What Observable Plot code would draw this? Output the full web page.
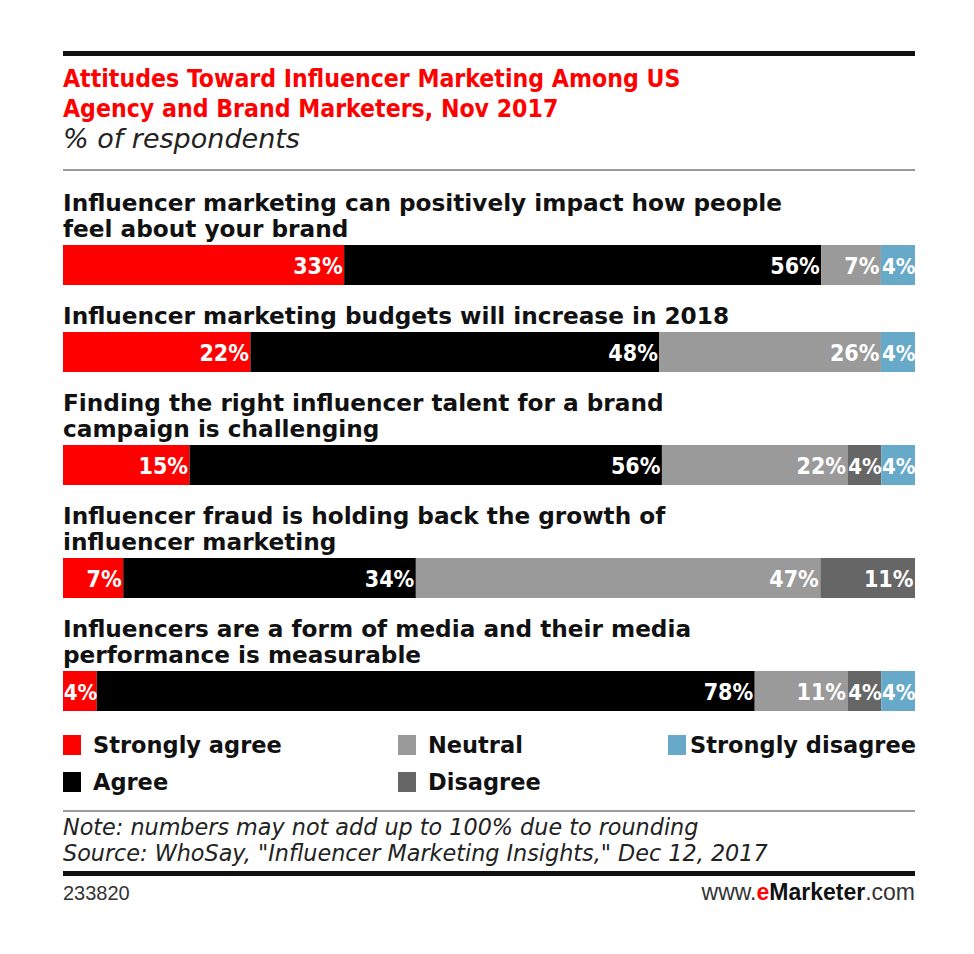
<!DOCTYPE html>
<html>
<head>
<meta charset="utf-8">
<script src="https://cdn.jsdelivr.net/npm/d3@7"></script>
<script src="https://cdn.jsdelivr.net/npm/@observablehq/plot@0.6"></script>
<style>
  html, body { margin: 0; padding: 0; background: #fff; }
  #page { position: relative; width: 974px; height: 954px; overflow: hidden; }
  .abs { position: absolute; left: 63px; width: 852px; }
  .rule-black { height: 5px; background: #111; }
  .rule-gray { height: 2px; background: #9a9a9a; }
  #title { font-family: "DejaVu Sans Condensed", "DejaVu Sans", sans-serif; font-stretch: condensed; font-weight: bold; font-size: 24.6px; line-height: 30px; color: #ff0000; }
  #subtitle { font-family: "DejaVu Sans", sans-serif; font-style: italic; font-size: 27px; line-height: 30px; color: #222; }
  #bars { top: 190px; }
  .q-label { font-family: "DejaVu Sans", sans-serif; font-weight: bold; font-size: 23.2px; line-height: 26px; color: #111; white-space: pre-line; }
  .q-bar { margin-top: 3px; margin-bottom: 18px; height: 40px; }
  .q-bar svg { display: block; }
  #legend { display: grid; grid-template-columns: 335px 270px 247px; grid-template-rows: 37px 37px; grid-auto-flow: column; font-family: "DejaVu Sans", sans-serif; font-weight: bold; font-size: 22.5px; color: #111; white-space: nowrap; }
  .lg-item { display: flex; align-items: center; height: 37px; }
  .lg-sw { width: 18px; height: 20px; margin-right: 12px; flex: none; }
  .lg-item.last .lg-sw { margin-right: 4px; }
  #notes { font-family: "DejaVu Sans", sans-serif; font-style: italic; font-size: 22.3px; line-height: 26px; color: #222; }
  #foot { display: flex; justify-content: space-between; align-items: baseline; font-family: "Liberation Sans", Arial, sans-serif; color: #333; }
  #foot .id { font-size: 20px; }
  #foot .site { font-size: 23px; }
  #foot .e { color: #ff0000; font-weight: bold; }
  #foot .m { color: #111; font-weight: bold; }
</style>
</head>
<body>
<div id="page">
  <div class="abs rule-black" style="top:51px"></div>
  <div class="abs" id="title" style="top:64px">Attitudes Toward Influencer Marketing Among US<br>Agency and Brand Marketers, Nov 2017</div>
  <div class="abs" id="subtitle" style="top:124px">% of respondents</div>
  <div class="abs rule-gray" style="top:169px"></div>
  <div class="abs" id="bars"></div>
  <div class="abs" id="legend" style="top:726px"></div>
  <div class="abs rule-gray" style="top:810px"></div>
  <div class="abs" id="notes" style="top:814px">Note: numbers may not add up to 100% due to rounding<br>Source: WhoSay, "Influencer Marketing Insights," Dec 12, 2017</div>
  <div class="abs rule-black" style="top:871px; height:5px"></div>
  <div class="abs" id="foot" style="top:879px"><span class="id">233820</span><span class="site">www.<span class="e">e</span><span class="m">Marketer</span>.com</span></div>
</div>
<script>
// ---- Data ----
const questions = [
  "Influencer marketing can positively impact how people\nfeel about your brand",
  "Influencer marketing budgets will increase in 2018",
  "Finding the right influencer talent for a brand\ncampaign is challenging",
  "Influencer fraud is holding back the growth of\ninfluencer marketing",
  "Influencers are a form of media and their media\nperformance is measurable"
];
const categories = ["Strongly agree", "Agree", "Neutral", "Disagree", "Strongly disagree"];
const colors = ["#ff0000", "#000000", "#9a9a9a", "#666666", "#66a9c9"];
const stronglyAgree    = [33, 22, 15, 7, 4];
const agree            = [56, 48, 56, 34, 78];
const neutral          = [7, 26, 22, 47, 11];
const disagree         = [null, null, 4, 11, 4];
const stronglyDisagree = [4, 4, 4, null, 4];
const legendOrder = ["Strongly agree", "Agree", "Neutral", "Disagree", "Strongly disagree"];

const seriesByCat = [stronglyAgree, agree, neutral, disagree, stronglyDisagree];

// ---- Bars ----
const barsDiv = document.getElementById("bars");
const labelFont = "DejaVu Sans Condensed, DejaVu Sans, sans-serif";
questions.forEach((q, qi) => {
  const rows = categories
    .map((c, ci) => ({question: q, category: c, value: seriesByCat[ci][qi]}))
    .filter(d => d.value != null);
  const label = document.createElement("div");
  label.className = "q-label";
  label.textContent = q;
  barsDiv.appendChild(label);
  const barWrap = document.createElement("div");
  barWrap.className = "q-bar";
  const stackOpts = {x: "value", z: "category", offset: "normalize", order: null};
  const chart = Plot.plot({
    width: 852,
    height: 40,
    margin: 0,
    x: {domain: [0, 1], axis: null},
    color: {domain: categories, range: colors},
    marks: [
      Plot.barX(rows, Plot.stackX({x: "value", fill: "category", offset: "normalize", order: null})),
      // wider segments: label padded from the segment end
      Plot.text(rows, Plot.stackX2({
        ...stackOpts,
        text: d => d.value >= 5 ? d.value + "%" : null,
        textAnchor: "end", dx: -2, dy: 1,
        fill: "white", fontSize: 23, fontWeight: "bold", fontFamily: labelFont
      })),
      // narrow segments: label fills the segment
      Plot.text(rows, Plot.stackX2({
        ...stackOpts,
        text: d => d.value < 5 ? d.value + "%" : null,
        textAnchor: "end", dx: 0, dy: 1,
        fill: "white", fontSize: 22, fontWeight: "bold", fontFamily: labelFont
      }))
    ]
  });
  chart.style.fontStretch = "condensed";
  barWrap.appendChild(chart);
  barsDiv.appendChild(barWrap);
});

// ---- Legend ----
const legend = document.getElementById("legend");
legendOrder.forEach((c, i) => {
  const item = document.createElement("div");
  item.className = "lg-item" + (i === legendOrder.length - 1 ? " last" : "");
  const sw = document.createElement("span");
  sw.className = "lg-sw";
  sw.style.background = colors[categories.indexOf(c)];
  const tx = document.createElement("span");
  tx.textContent = c;
  item.appendChild(sw);
  item.appendChild(tx);
  legend.appendChild(item);
});
</script>
</body>
</html>
